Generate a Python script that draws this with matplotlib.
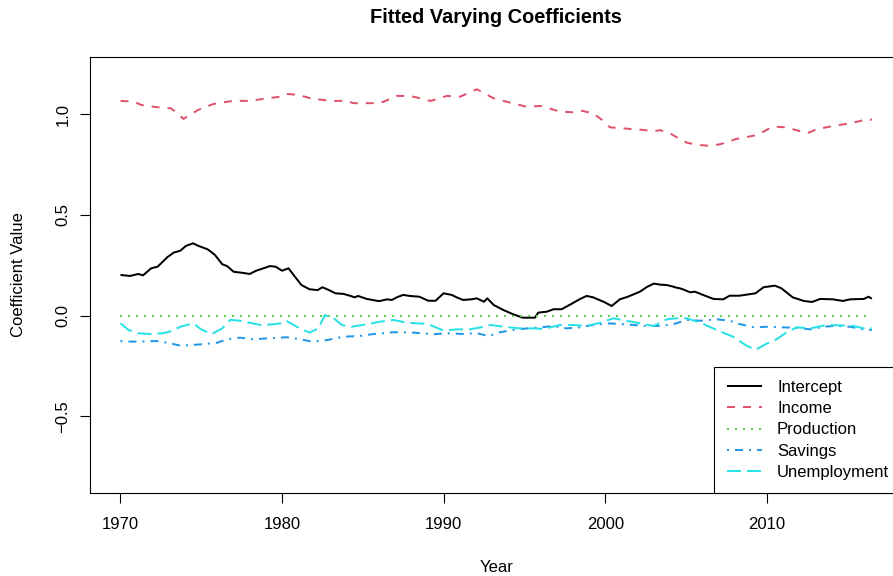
import matplotlib
matplotlib.use("Agg")
import matplotlib.pyplot as plt

# ---- data ----
intercept_years = [1970.0, 1970.6, 1971.1, 1971.4, 1971.9, 1972.3, 1972.9, 1973.3, 1973.7, 1974.05,
                   1974.5, 1974.8, 1975.4, 1975.85, 1976.3, 1976.6, 1977.0, 1977.5, 1978.0, 1978.4,
                   1978.85, 1979.25, 1979.6, 1980.0, 1980.4, 1980.8, 1981.2, 1981.7, 1982.2, 1982.5,
                   1982.9, 1983.3, 1983.8, 1984.2, 1984.5, 1984.7, 1985.25, 1986.0, 1986.5, 1986.8,
                   1987.1, 1987.5, 1987.9, 1988.5, 1989.05, 1989.5, 1990.0, 1990.5, 1990.8, 1991.2,
                   1991.7, 1992.05, 1992.5, 1992.7, 1993.1, 1993.7, 1994.3, 1994.9, 1995.65, 1995.85,
                   1996.4, 1996.8, 1997.3, 1997.9, 1998.4, 1998.85, 1999.25, 1999.9, 2000.4, 2000.9,
                   2001.4, 2002.15, 2002.55, 2003.0, 2003.4, 2003.8, 2004.2, 2004.4, 2004.6, 2004.8,
                   2005.25, 2005.55, 2006.05, 2006.7, 2007.3, 2007.7, 2008.3, 2009.3, 2009.8, 2010.5,
                   2010.9, 2011.6, 2012.3, 2012.8, 2013.3, 2014.1, 2014.7, 2015.15, 2016.0, 2016.3,
                   2016.5]
intercept_values = [0.202, 0.197, 0.207, 0.200, 0.235, 0.243, 0.290, 0.313, 0.322, 0.346,
                    0.359, 0.347, 0.329, 0.301, 0.255, 0.246, 0.218, 0.213, 0.207, 0.223,
                    0.235, 0.246, 0.243, 0.223, 0.235, 0.193, 0.152, 0.131, 0.127, 0.141,
                    0.127, 0.111, 0.108, 0.099, 0.091, 0.098, 0.083, 0.072, 0.081, 0.078,
                    0.091, 0.103, 0.098, 0.094, 0.074, 0.074, 0.111, 0.103, 0.091, 0.078,
                    0.081, 0.086, 0.069, 0.086, 0.053, 0.028, 0.007, -0.010, -0.010, 0.015,
                    0.020, 0.032, 0.032, 0.058, 0.081, 0.098, 0.091, 0.069, 0.048, 0.081,
                    0.094, 0.119, 0.141, 0.159, 0.154, 0.152, 0.144, 0.139, 0.136, 0.131,
                    0.116, 0.119, 0.103, 0.083, 0.081, 0.099, 0.099, 0.111, 0.141, 0.149,
                    0.136, 0.091, 0.073, 0.068, 0.083, 0.081, 0.073, 0.081, 0.083, 0.094,
                    0.084]

income_years = [1970.0, 1970.8, 1971.3, 1972.25, 1973.1, 1973.4, 1973.9, 1974.8, 1975.75, 1977.0,
                1978.0, 1979.05, 1979.9, 1980.3, 1981.0, 1981.9, 1983.2, 1984.0, 1984.4, 1985.25,
                1986.05, 1986.3, 1987.1, 1987.9, 1988.4, 1989.2, 1990.2, 1991.0, 1991.5, 1992.05,
                1993.1, 1994.1, 1995.1, 1996.05, 1997.2, 1998.0, 1998.5, 1999.25, 1999.8, 2000.3,
                2001.1, 2002.4, 2003.0, 2003.4, 2004.0, 2004.4, 2005.05, 2005.7, 2006.4, 2007.1,
                2008.1, 2009.2, 2009.5, 2010.1, 2010.4, 2011.2, 2011.6, 2012.5, 2013.1, 2014.1,
                2015.15, 2015.8, 2016.2, 2016.5]
income_values = [1.065, 1.062, 1.045, 1.034, 1.029, 1.012, 0.976, 1.020, 1.050, 1.066,
                 1.065, 1.078, 1.086, 1.100, 1.095, 1.075, 1.065, 1.066, 1.054, 1.054,
                 1.054, 1.062, 1.090, 1.090, 1.081, 1.065, 1.090, 1.086, 1.103, 1.123,
                 1.078, 1.057, 1.037, 1.040, 1.012, 1.009, 1.017, 1.004, 0.971, 0.934,
                 0.929, 0.921, 0.915, 0.920, 0.905, 0.886, 0.858, 0.847, 0.843, 0.850,
                 0.876, 0.893, 0.900, 0.926, 0.938, 0.934, 0.925, 0.905, 0.925, 0.941,
                 0.954, 0.966, 0.976, 0.971]

production_years = [1970.0, 2016.5]
production_values = [0.0, 0.0]

savings_years = [1970.0, 1970.8, 1972.25, 1973.1, 1973.7, 1974.5, 1975.3, 1976.0, 1976.6, 1977.4,
                 1978.2, 1979.25, 1980.3, 1981.1, 1981.9, 1982.8, 1983.8, 1984.8, 1985.65, 1986.05,
                 1986.9, 1988.1, 1989.4, 1990.2, 1991.2, 1992.05, 1992.8, 1993.5, 1994.3, 1995.15,
                 1996.0, 1996.8, 1997.6, 1998.4, 1999.25, 2000.1, 2000.9, 2001.7, 2002.55, 2003.4,
                 2004.2, 2005.05, 2005.9, 2006.9, 2007.7, 2008.3, 2009.2, 2010.0, 2011.0, 2011.85,
                 2012.7, 2013.5, 2014.3, 2015.15, 2016.0, 2016.5]
savings_values = [-0.126, -0.129, -0.126, -0.137, -0.149, -0.145, -0.140, -0.134, -0.117, -0.109,
                  -0.117, -0.112, -0.107, -0.117, -0.129, -0.121, -0.104, -0.101, -0.091, -0.089,
                  -0.082, -0.084, -0.092, -0.087, -0.091, -0.087, -0.101, -0.082, -0.071, -0.063,
                  -0.058, -0.051, -0.063, -0.058, -0.046, -0.038, -0.041, -0.046, -0.051, -0.051,
                  -0.043, -0.021, -0.025, -0.018, -0.025, -0.041, -0.058, -0.055, -0.058, -0.060,
                  -0.068, -0.055, -0.050, -0.055, -0.068, -0.071]

unemp_years = [1970.0, 1970.5, 1971.1, 1971.8, 1972.65, 1973.2, 1973.7, 1974.5, 1975.0, 1975.65,
               1976.3, 1976.8, 1977.4, 1978.0, 1978.65, 1979.4, 1979.9, 1980.25, 1980.6, 1981.1,
               1981.7, 1982.25, 1982.65, 1983.2, 1983.7, 1984.3, 1985.0, 1986.05, 1986.9, 1987.7,
               1989.0, 1990.0, 1990.8, 1991.6, 1992.5, 1992.9, 1993.7, 1994.7, 1995.55, 1996.2,
               1997.2, 1998.0, 1998.85, 1999.7, 2000.5, 2001.3, 2002.15, 2003.0, 2003.8, 2004.4,
               2005.05, 2005.9, 2006.9, 2007.9, 2008.75, 2009.3, 2009.9, 2010.6, 2011.2, 2011.85,
               2012.7, 2013.7, 2014.5, 2015.35, 2016.0, 2016.5]
unemp_values = [-0.038, -0.071, -0.087, -0.091, -0.087, -0.076, -0.055, -0.038, -0.068, -0.091,
                -0.063, -0.021, -0.025, -0.035, -0.046, -0.043, -0.038, -0.025, -0.041, -0.063,
                -0.084, -0.063, 0.003, -0.013, -0.046, -0.055, -0.046, -0.030, -0.021, -0.035,
                -0.041, -0.074, -0.068, -0.068, -0.055, -0.046, -0.055, -0.063, -0.063, -0.066,
                -0.046, -0.046, -0.051, -0.035, -0.013, -0.025, -0.038, -0.051, -0.018, -0.013,
                -0.013, -0.035, -0.071, -0.104, -0.149, -0.170, -0.142, -0.117, -0.084, -0.058,
                -0.063, -0.046, -0.048, -0.051, -0.063, -0.063]

series_names = ["Intercept", "Income", "Production", "Savings", "Unemployment"]
x_ticks = [1970, 1980, 1990, 2000, 2010]
y_ticks = [-0.5, 0.0, 0.5, 1.0]
y_tick_labels = ["\u22120.5", "0.0", "0.5", "1.0"]

# ---- styling ----
plt.rcParams["font.family"] = ["Liberation Sans", "DejaVu Sans"]
W, H = 893, 576
fig = plt.figure(figsize=(W / 100, H / 100), dpi=100)

left_px, right_px, top_px, bottom_px = 90.4, 901.9, 57.0, 492.7
ax = fig.add_axes([left_px / W, 1 - bottom_px / H,
                   (right_px - left_px) / W, (bottom_px - top_px) / H])

lw = 1.44
fs = 12
colors = ["#000000", "#DF536B", "#61D04F", "#2297E6", "#28E2E5"]
styles = ["-", (0, (4, 4)), (0, (1, 3)), (0, (1, 3, 4, 3)), (0, (7, 3))]
data = [(intercept_years, intercept_values), (income_years, income_values),
        (production_years, production_values), (savings_years, savings_values),
        (unemp_years, unemp_values)]
for (xs, ys), name, c, ls in zip(data, series_names, colors, styles):
    ax.plot(xs, ys, color=c, linestyle=ls, linewidth=lw, label=name,
            dash_capstyle="butt", solid_capstyle="butt")

ax.set_xlim(1968.14, 2018.36)
ax.set_ylim(-0.878, 1.283)
ax.set_xticks(x_ticks)
ax.set_xticklabels([str(t) for t in x_ticks])
ax.set_yticks(y_ticks)
ax.set_yticklabels(y_tick_labels, rotation=90, va="center")

for s in ax.spines.values():
    s.set_linewidth(0.8)
    s.set_color("black")
ax.tick_params(axis="both", direction="out", length=7.2, width=0.8, labelsize=fs, colors="black")
ax.tick_params(axis="x", pad=10.0)
ax.tick_params(axis="y", pad=7.0)

ax.set_xlabel("Year", fontsize=fs)
ax.xaxis.label.set_va("center")
ax.xaxis.set_label_coords(0.5, (bottom_px - 567.5) / (bottom_px - top_px))
ax.set_ylabel("Coefficient Value", fontsize=fs)
ax.yaxis.label.set_va("center")
ax.yaxis.set_label_coords((19 - left_px) / (right_px - left_px), 0.5)

fig.text((left_px + right_px) / 2 / W, 1 - 17.5 / H, "Fitted Varying Coefficients",
         ha="center", va="center", fontsize=14.4, fontweight="bold")

leg = ax.legend(loc="lower left", bbox_to_anchor=((714 - left_px) / (right_px - left_px), 0.0),
                fontsize=fs, frameon=True, fancybox=False, shadow=False, framealpha=1,
                edgecolor="black", borderpad=0.76, labelspacing=0.38, handlelength=2.1,
                handletextpad=0.92, borderaxespad=0.0)
leg.get_frame().set_linewidth(0.8)

fig.savefig("out.png", dpi=100)
